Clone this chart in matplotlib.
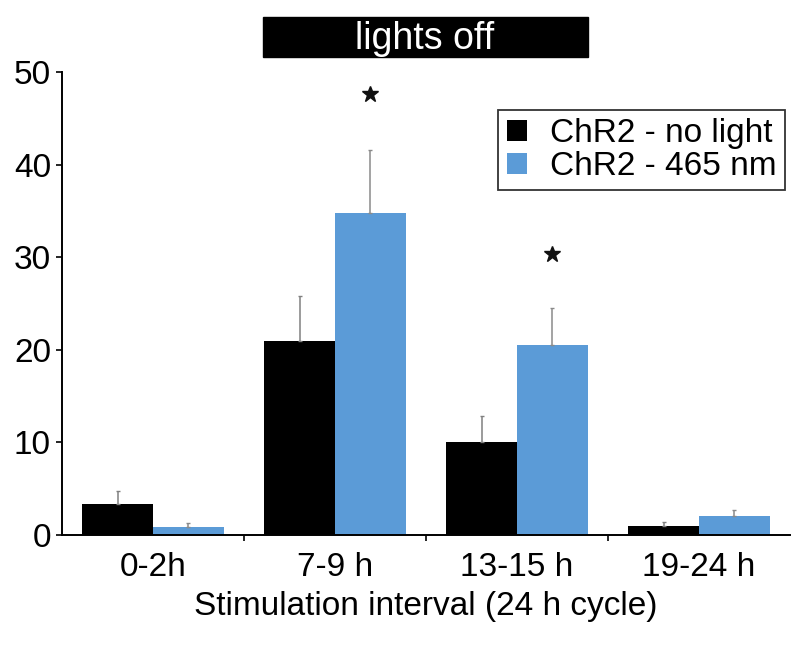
import numpy as np
import matplotlib.pyplot as plt
from matplotlib.patches import Rectangle

plt.rcParams['font.family'] = ['Liberation Sans', 'DejaVu Sans']

# datos
categories = ['0-2h', '7-9 h', '13-15 h', '19-24 h']
no_light = [3.3, 21.0, 10.0, 1.0]
no_light_err = [1.5, 4.8, 2.8, 0.4]
light_465 = [0.9, 34.8, 20.5, 2.0]
light_465_err = [0.4, 6.8, 4.0, 0.7]
star_idx = [1, 2]
star_y = [47.6, 30.3]

black = '#000000'
blue = '#5B9BD7'

fig = plt.figure(figsize=(8, 6.47), dpi=100)
ax = fig.add_axes([62 / 800, 1 - 535 / 647, 728 / 800, 463 / 647])

x = np.arange(len(categories))
w = 0.39

ax.bar(x - w / 2, no_light, width=w, color=black, label='ChR2 - no light')
ax.bar(x + w / 2, light_465, width=w, color=blue, label='ChR2 - 465 nm')

# barras de error solo hacia arriba
ax.errorbar(x - w / 2, no_light, yerr=[np.zeros(4), no_light_err],
            fmt='none', ecolor='#808080', elinewidth=1.1, capsize=1.5)
ax.errorbar(x + w / 2, light_465, yerr=[np.zeros(4), light_465_err],
            fmt='none', ecolor='#8a8a8a', elinewidth=1.1, capsize=1.5)

ax.plot(x[star_idx] + w / 2, star_y, linestyle='none', marker='*',
        markersize=12, color='#111111')

ax.set_xlim(-0.5, 3.5)
ax.set_ylim(0, 50)
ax.set_yticks([0, 10, 20, 30, 40, 50])
ax.set_xticks(x)
ax.set_xticklabels(categories)
ax.set_xticks(x[:-1] + 0.5, minor=True)
ax.tick_params(axis='x', which='major', length=0, pad=12, labelsize=24)
ax.tick_params(axis='x', which='minor', length=4, width=1.2, direction='out')
ax.tick_params(axis='y', length=4, width=1.2, labelsize=24, pad=4)
ax.spines['top'].set_visible(False)
ax.spines['right'].set_visible(False)
ax.spines['left'].set_linewidth(1.4)
ax.spines['bottom'].set_linewidth(1.4)
ax.set_xlabel('Stimulation interval (24 h cycle)', fontsize=24, labelpad=6)

leg = ax.legend(loc='upper right', bbox_to_anchor=(0.993, 0.918), fontsize=24,
                frameon=True, fancybox=False, edgecolor='black',
                handlelength=0.6, handleheight=0.6, handletextpad=0.7,
                borderpad=0.25, labelspacing=0.05, borderaxespad=0)
leg.get_frame().set_linewidth(1.3)

# caja "lights off"
box = Rectangle((263 / 800, 1 - 57 / 647), 325 / 800, 40 / 647,
                transform=fig.transFigure, color='black')
fig.patches.append(box)
fig.text(425 / 800, 1 - 39 / 647, 'lights off', color='white', fontsize=27,
         ha='center', va='center')

plt.savefig('out.png', dpi=100)
